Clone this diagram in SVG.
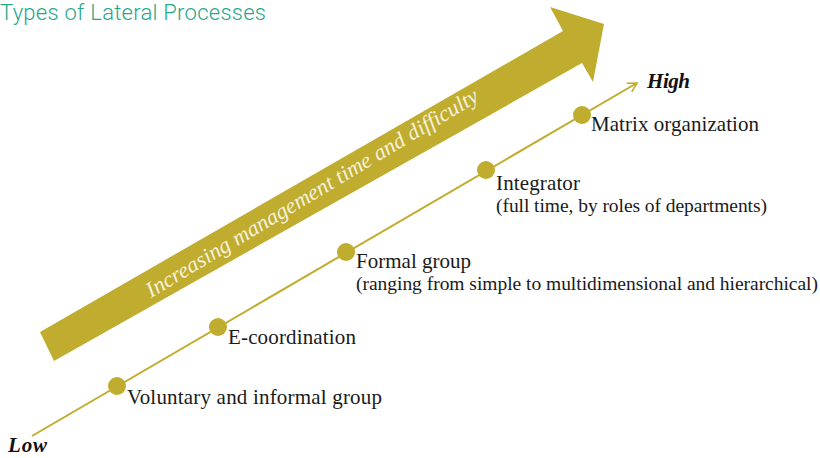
<svg xmlns="http://www.w3.org/2000/svg" width="820" height="458" viewBox="0 0 820 458">
<defs>
<style>
.lbl{font-family:"Liberation Serif","DejaVu Serif",serif;font-size:21px;fill:#1a1a1a}
.sub{font-family:"Liberation Serif","DejaVu Serif",serif;font-size:19.5px;fill:#1a1a1a}
.end{font-family:"Liberation Serif","DejaVu Serif",serif;font-size:21px;font-weight:bold;font-style:italic;fill:#111}
.dot{fill:#c0ad2f}
</style>
<marker id="open" markerWidth="12" markerHeight="12" refX="10" refY="6" orient="auto" markerUnits="userSpaceOnUse">
<path d="M1,1 L10,6 L1,11" fill="none" stroke="#c0ad2f" stroke-width="1.6"/>
</marker>
</defs>
<rect width="820" height="458" fill="#fff"/>
<text x="0" y="20" font-family="Roboto, 'Noto Sans', sans-serif" font-weight="300" font-size="22" textLength="266" fill="#26a68a">Types of Lateral Processes</text>
<g id="big-arrow">
<polygon points="40,332 563,31 550,7 604,24 593,82 582,63 54,361" fill="#c0ad2f"/>
<text transform="translate(151,298) rotate(-31)" font-family="'Liberation Serif','DejaVu Serif',serif" font-style="italic" font-size="22" fill="#f6f1dc" textLength="384" lengthAdjust="spacingAndGlyphs">Increasing management time and difficulty</text>
</g>
<g id="connectors">
<line x1="32" y1="436" x2="637" y2="83" stroke="#c0ad2f" stroke-width="2" marker-end="url(#open)"/>
</g>
<g id="low"><text class="end" x="8" y="452" textLength="39">Low</text></g>
<g id="high"><text class="end" x="647" y="88" textLength="43">High</text></g>
<g id="voluntary">
<circle class="dot" cx="117" cy="386" r="9"/>
<text class="lbl" x="127" y="404" textLength="255">Voluntary and informal group</text>
</g>
<g id="ecoordination">
<circle class="dot" cx="218" cy="327" r="9"/>
<text class="lbl" x="228" y="344" textLength="128">E-coordination</text>
</g>
<g id="formal-group">
<circle class="dot" cx="346" cy="252" r="9"/>
<text class="lbl" x="356" y="268" textLength="115">Formal group</text>
<text class="sub" x="356" y="290" textLength="462">(ranging from simple to multidimensional and hierarchical)</text>
</g>
<g id="integrator">
<circle class="dot" cx="486" cy="170" r="9"/>
<text class="lbl" x="496" y="190" textLength="84">Integrator</text>
<text class="sub" x="496" y="212" textLength="271">(full time, by roles of departments)</text>
</g>
<g id="matrix">
<circle class="dot" cx="582" cy="115" r="9"/>
<text class="lbl" x="591" y="131" textLength="168">Matrix organization</text>
</g>
</svg>
